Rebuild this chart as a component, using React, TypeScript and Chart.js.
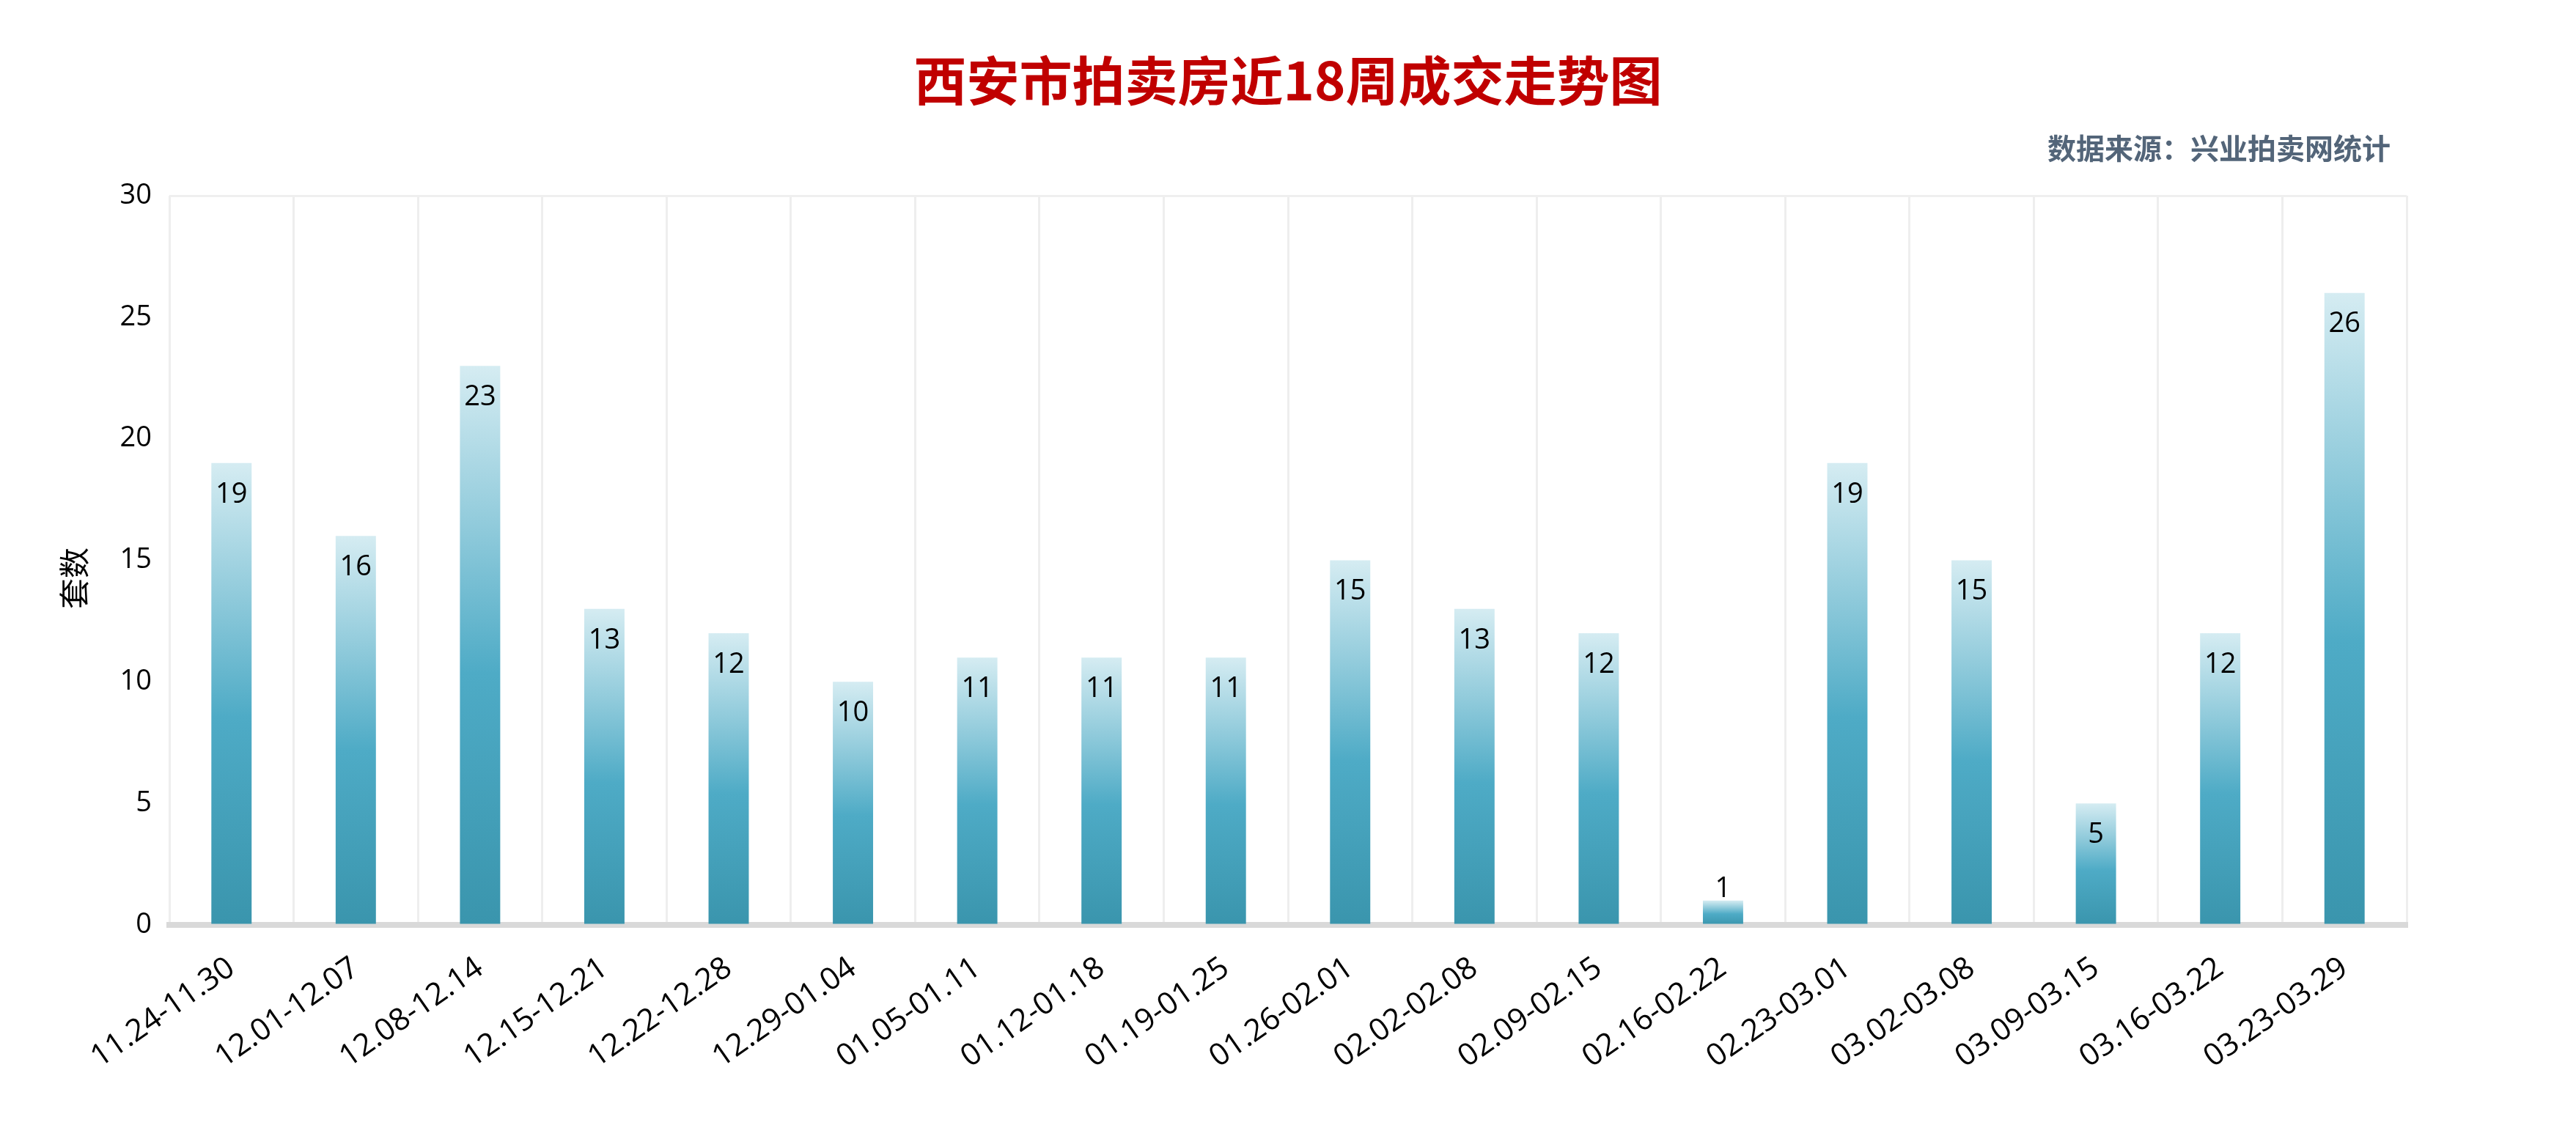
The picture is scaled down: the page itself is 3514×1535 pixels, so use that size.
import React, { useEffect, useRef } from "react";
import { Chart, registerables } from "chart.js";

Chart.register(...registerables);

const categories: string[] = [
  "11.24-11.30", "12.01-12.07", "12.08-12.14", "12.15-12.21", "12.22-12.28",
  "12.29-01.04", "01.05-01.11", "01.12-01.18", "01.19-01.25", "01.26-02.01",
  "02.02-02.08", "02.09-02.15", "02.16-02.22", "02.23-03.01", "03.02-03.08",
  "03.09-03.15", "03.16-03.22", "03.23-03.29",
];
const values: number[] = [19, 16, 23, 13, 12, 10, 11, 11, 11, 15, 13, 12, 1, 19, 15, 5, 12, 26];
const yTicks: number[] = [0, 5, 10, 15, 20, 25, 30];

const titleText = "西安市拍卖房近18周成交走势图";
const sourceText = "数据来源：兴业拍卖网统计";
const yAxisTitle = "套数";

const LATIN = "'Open Sans', 'Noto Sans', sans-serif";
const CJK = "'Noto Sans CJK SC', 'Noto Sans', sans-serif";

const valueLabelPlugin = {
  id: "valueLabels",
  afterDatasetsDraw(chart: any) {
    const ctx = chart.ctx;
    const meta = chart.getDatasetMeta(0);
    ctx.save();
    ctx.font = `38px ${LATIN}`;
    ctx.fillStyle = "#000000";
    ctx.textAlign = "center";
    ctx.textBaseline = "middle";
    meta.data.forEach((el: any, i: number) => {
      const h = el.base - el.y;
      const y = h > 80 ? el.y + 43 : el.y - 16;
      ctx.fillText(String(values[i]), el.x, y);
    });
    ctx.restore();
  },
};

const textPlugin = {
  id: "headerTexts",
  afterDraw(chart: any) {
    const ctx = chart.ctx;
    ctx.save();
    ctx.font = `bold 72px ${CJK}`;
    ctx.fillStyle = "#c00000";
    ctx.textAlign = "center";
    ctx.textBaseline = "middle";
    ctx.fillText(titleText, chart.width / 2, 110);
    ctx.font = `bold 39px ${CJK}`;
    ctx.fillStyle = "#536579";
    ctx.textAlign = "right";
    ctx.fillText(sourceText, chart.chartArea.right - 22, 202);
    ctx.translate(101, 789);
    ctx.rotate(-Math.PI / 2);
    ctx.font = `42px ${CJK}`;
    ctx.fillStyle = "#000000";
    ctx.textAlign = "center";
    ctx.fillText(yAxisTitle, 0, 0);
    ctx.restore();
  },
};

export default function App() {
  const canvasRef = useRef<HTMLCanvasElement | null>(null);

  useEffect(() => {
    if (!canvasRef.current) return;
    const chart = new Chart(canvasRef.current, {
      type: "bar",
      data: {
        labels: categories,
        datasets: [
          {
            data: values,
            backgroundColor: (context: any) => {
              const c = context.chart;
              const yScale = c.scales && c.scales.y;
              if (!yScale || context.dataIndex === undefined) return "#4aa8c2";
              const v = values[context.dataIndex];
              const top = yScale.getPixelForValue(v);
              const base = yScale.getPixelForValue(0);
              if (!isFinite(top) || !isFinite(base) || top === base) return "#4aa8c2";
              const g = c.ctx.createLinearGradient(0, top, 0, base);
              g.addColorStop(0, "#d5ecf2");
              g.addColorStop(0.3, "#8dc9da");
              g.addColorStop(0.55, "#4eabc6");
              g.addColorStop(1, "#3a95ad");
              return g;
            },
            borderWidth: 0,
            categoryPercentage: 1,
            barPercentage: 0.324,
          },
        ],
      },
      options: {
        animation: false,
        responsive: true,
        maintainAspectRatio: false,
        layout: { padding: { top: 267, right: 231, bottom: 0, left: 0 } },
        plugins: {
          legend: { display: false },
          tooltip: { enabled: false },
          title: { display: false },
        },
        scales: {
          x: {
            afterFit: (scale: any) => {
              scale.height = 273;
            },
            grid: {
              display: true,
              offset: true,
              drawTicks: false,
              color: "#eeeeee",
              lineWidth: 3,
            },
            border: { display: true, color: "#d9d9d9", width: 8 },
            ticks: {
              autoSkip: false,
              minRotation: 35,
              maxRotation: 35,
              padding: 34,
              color: "#000000",
              font: { family: LATIN, size: 42 },
            },
          },
          y: {
            min: 0,
            max: 30,
            afterFit: (scale: any) => {
              scale.width = 231;
            },
            afterBuildTicks: (scale: any) => {
              scale.ticks = yTicks.map((v) => ({ value: v }));
            },
            grid: {
              drawTicks: false,
              color: (ctx: any) => (ctx.tick && ctx.tick.value === 30 ? "#efefef" : "rgba(0,0,0,0)"),
              lineWidth: 3,
            },
            border: { display: false },
            ticks: {
              padding: 24,
              color: "#000000",
              font: { family: LATIN, size: 38 },
            },
          },
        },
      },
      plugins: [valueLabelPlugin, textPlugin],
    });
    return () => chart.destroy();
  }, []);

  return (
    <div style={{ position: "fixed", left: 0, top: 0, width: "100vw", height: "100vh", background: "#ffffff" }}>
      <canvas ref={canvasRef} />
    </div>
  );
}
